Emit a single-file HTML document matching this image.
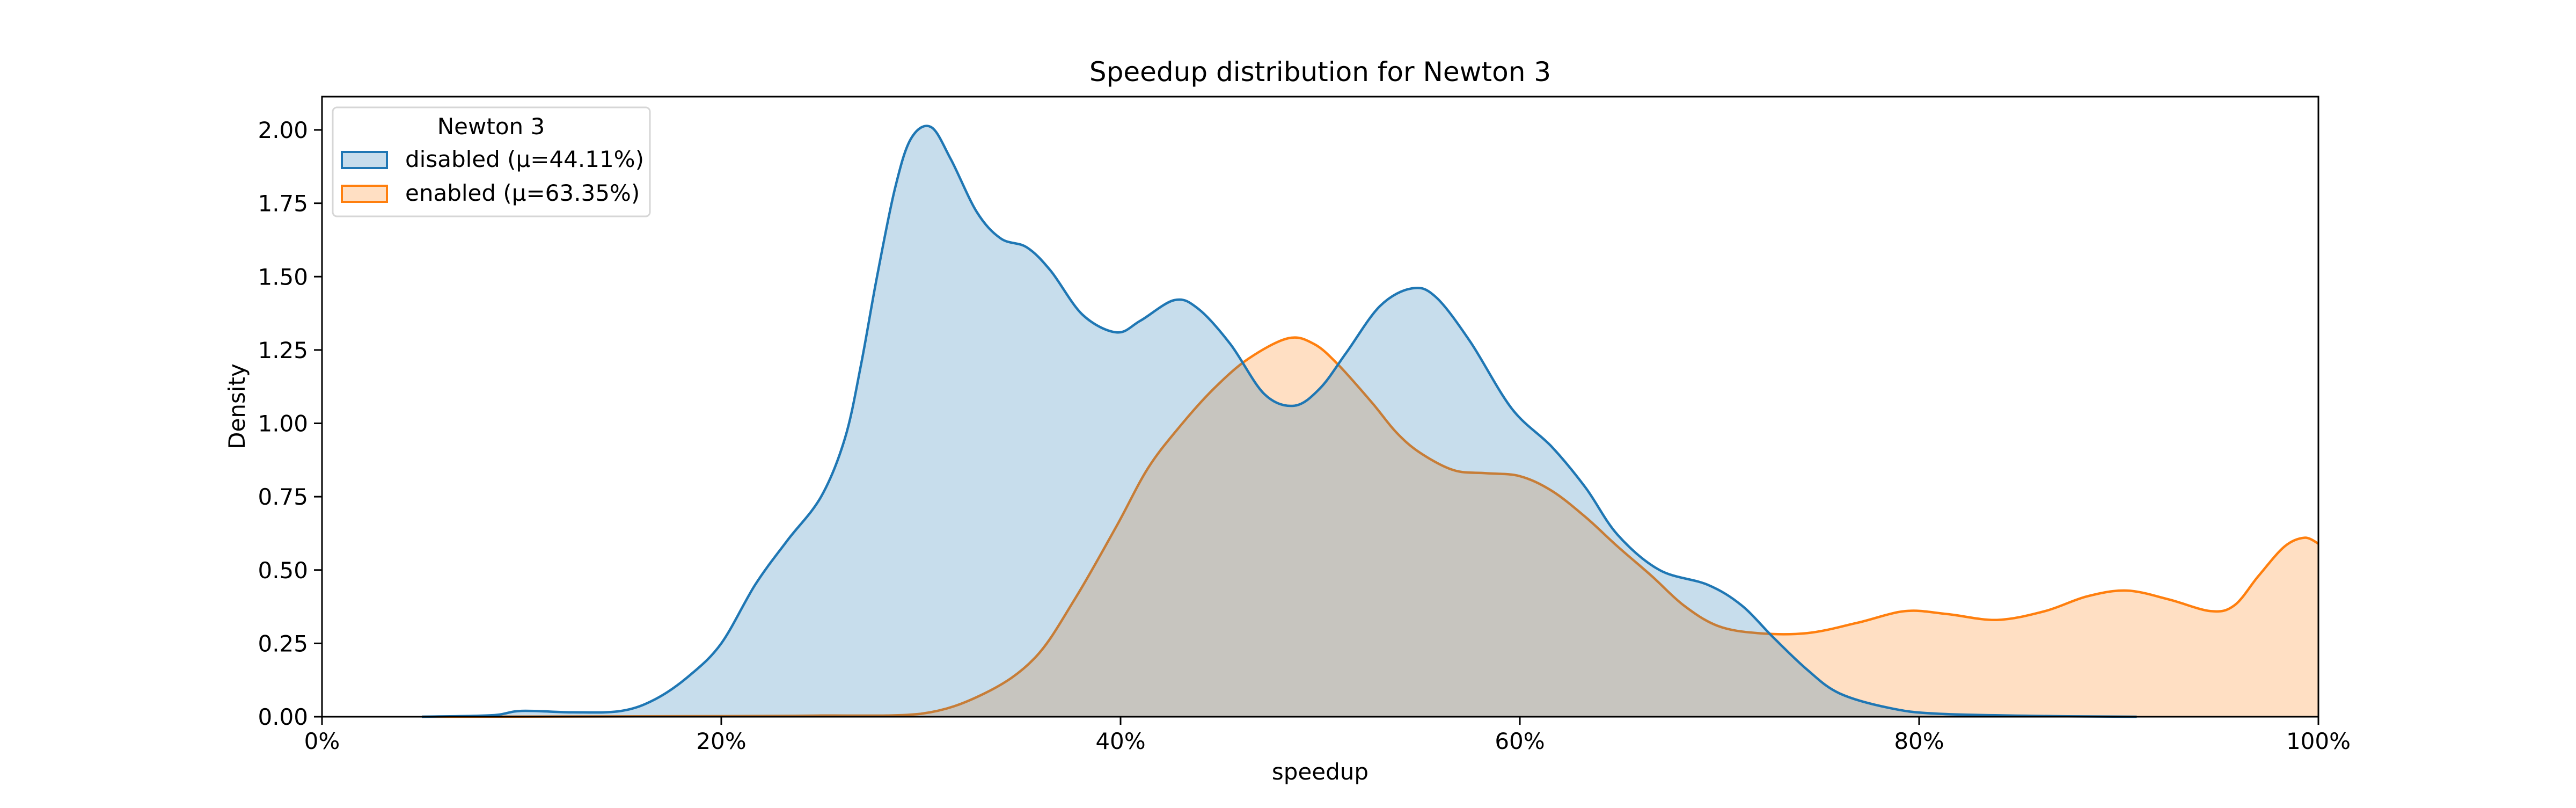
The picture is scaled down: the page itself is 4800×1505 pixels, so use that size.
<!DOCTYPE html>
<html><head><meta charset="utf-8"><style>
html,body{margin:0;padding:0;background:#fff;}
svg text{font-family:"DejaVu Sans","Liberation Sans",sans-serif;fill:#000;}
</style></head><body>
<svg id="chart" width="4800" height="1500" viewBox="0 0 4800 1500" xmlns="http://www.w3.org/2000/svg">
<rect width="4800" height="1500" fill="#fff"/>
<text x="2460" y="151" font-size="50" text-anchor="middle">Speedup distribution for Newton 3</text>
<g id="plot"></g>
<g id="axes"></g>
<text x="2460" y="1452" font-size="42" text-anchor="middle">speedup</text>
<text x="0" y="0" font-size="42" text-anchor="middle" transform="translate(456,757) rotate(-90)">Density</text>
<g>
<rect x="620" y="200" width="591" height="203" rx="8" fill="#fff" fill-opacity="0.8" stroke="#d6d6d6" stroke-width="3"/>
<text x="915" y="250" font-size="42" text-anchor="middle">Newton 3</text>
<rect x="637" y="283" width="84" height="30" fill="#1f77b4" fill-opacity="0.25" stroke="#1f77b4" stroke-width="4"/>
<text x="755" y="311" font-size="42">disabled (μ=44.11%)</text>
<rect x="637" y="346" width="84" height="30" fill="#ff7f0e" fill-opacity="0.25" stroke="#ff7f0e" stroke-width="4"/>
<text x="755" y="374" font-size="42">enabled (μ=63.35%)</text>
</g>
</svg>
<script>
const disabledX=[5,8.5,10,12.6,15,16.7,18.4,20,21.7,23.3,25,26.2,27,27.8,28.7,29.5,30.5,31.5,32.8,34,35.3,36.5,38.1,39.8,41,42.7,43.9,45.5,47.2,48.7,50,51.3,53,54.6,55.8,57.5,59.6,61.6,63.3,64.9,67,69.4,71.1,72.7,74.4,76,78.5,81,86.7,90.9];
const disabledY=[0,0.005,0.02,0.015,0.02,0.06,0.14,0.25,0.45,0.6,0.75,0.95,1.2,1.5,1.8,1.97,2.01,1.9,1.72,1.63,1.6,1.52,1.37,1.31,1.35,1.42,1.39,1.27,1.1,1.06,1.12,1.24,1.4,1.46,1.43,1.28,1.05,0.92,0.78,0.62,0.5,0.45,0.38,0.27,0.16,0.08,0.03,0.01,0.002,0];
const enabledX=[5,20,25,30,33.2,35.7,37.7,39.8,41.4,43.1,44.7,46.4,48.4,49.7,50.9,52.6,53.8,55,56.7,58.3,60,61.6,63.3,64.9,66.6,68.2,69.9,71.9,74.4,76.9,79.3,81.4,83.9,86.3,88.4,90.4,92.5,94.6,95.8,97,98.3,99.3,100];
const enabledY=[0,0.002,0.004,0.01,0.08,0.2,0.4,0.65,0.85,1.0,1.12,1.22,1.29,1.27,1.2,1.07,0.97,0.9,0.84,0.83,0.82,0.77,0.68,0.58,0.48,0.38,0.31,0.285,0.285,0.32,0.36,0.35,0.33,0.36,0.41,0.43,0.40,0.36,0.38,0.48,0.58,0.61,0.59];
const xTicks=[0,20,40,60,80,100];
const xTickLabels=["0%","20%","40%","60%","80%","100%"];
const yTicks=[0,0.25,0.5,0.75,1,1.25,1.5,1.75,2];
const yTickLabels=["0.00","0.25","0.50","0.75","1.00","1.25","1.50","1.75","2.00"];

const L=600,R=4320,T=180,B=1335,YMAX=(1335-180)/546.5;
const sx=v=>L+(v/100)*(R-L);
const sy=v=>B-(v/YMAX)*(B-T);
const NS="http://www.w3.org/2000/svg";
function smooth(xs,ys){
  const p=xs.map((x,i)=>[sx(x),sy(ys[i])]);
  let d="M"+p[0][0].toFixed(1)+","+p[0][1].toFixed(1);
  for(let i=0;i<p.length-1;i++){
    const p0=p[Math.max(0,i-1)],p1=p[i],p2=p[i+1],p3=p[Math.min(p.length-1,i+2)];
    const c1=[p1[0]+(p2[0]-p0[0])/6,p1[1]+(p2[1]-p0[1])/6];
    const c2=[p2[0]-(p3[0]-p1[0])/6,p2[1]-(p3[1]-p1[1])/6];
    c1[1]=Math.min(c1[1],B);c2[1]=Math.min(c2[1],B);
    d+=" C"+c1[0].toFixed(1)+","+c1[1].toFixed(1)+" "+c2[0].toFixed(1)+","+c2[1].toFixed(1)+" "+p2[0].toFixed(1)+","+p2[1].toFixed(1);
  }
  return {d,first:p[0],last:p[p.length-1]};
}
const plot=document.getElementById('plot');
function series(xs,ys,color,name){
  const s=smooth(xs,ys);
  const f=document.createElementNS(NS,'path');
  f.setAttribute('d',s.d+" L"+s.last[0]+","+B+" L"+s.first[0]+","+B+" Z");
  f.setAttribute('fill',color);f.setAttribute('fill-opacity','0.25');
  
  
  plot.appendChild(f);
  const l=document.createElementNS(NS,'path');
  l.setAttribute('d',s.d);l.setAttribute('fill','none');l.setAttribute('stroke',color);l.setAttribute('stroke-width','4.5');
  
  
  plot.appendChild(l);
}
series(enabledX,enabledY,'#ff7f0e','enabled');
series(disabledX,disabledY,'#1f77b4','disabled');
const axes=document.getElementById('axes');
const fr=document.createElementNS(NS,'rect');
fr.setAttribute('x',L);fr.setAttribute('y',T);fr.setAttribute('width',R-L);fr.setAttribute('height',B-T);
fr.setAttribute('fill','none');fr.setAttribute('stroke','#000');fr.setAttribute('stroke-width','3');


axes.appendChild(fr);
xTicks.forEach((v,i)=>{
  const t=document.createElementNS(NS,'line');
  t.setAttribute('x1',sx(v));t.setAttribute('x2',sx(v));t.setAttribute('y1',B);t.setAttribute('y2',B+15);
  t.setAttribute('stroke','#000');t.setAttribute('stroke-width','3');
  
  
  axes.appendChild(t);
  const tx=document.createElementNS(NS,'text');
  tx.setAttribute('x',sx(v));tx.setAttribute('y',B+60);tx.setAttribute('font-size','42');tx.setAttribute('text-anchor','middle');
  tx.textContent=xTickLabels[i];
  
  
  axes.appendChild(tx);
});
yTicks.forEach((v,i)=>{
  const t=document.createElementNS(NS,'line');
  t.setAttribute('x1',L-15);t.setAttribute('x2',L);t.setAttribute('y1',sy(v));t.setAttribute('y2',sy(v));
  t.setAttribute('stroke','#000');t.setAttribute('stroke-width','3');
  
  
  axes.appendChild(t);
  const tx=document.createElementNS(NS,'text');
  tx.setAttribute('x',L-26);tx.setAttribute('y',sy(v)+15);tx.setAttribute('font-size','42');tx.setAttribute('text-anchor','end');
  tx.textContent=yTickLabels[i];
  
  
  axes.appendChild(tx);
});
</script>
</body></html>
